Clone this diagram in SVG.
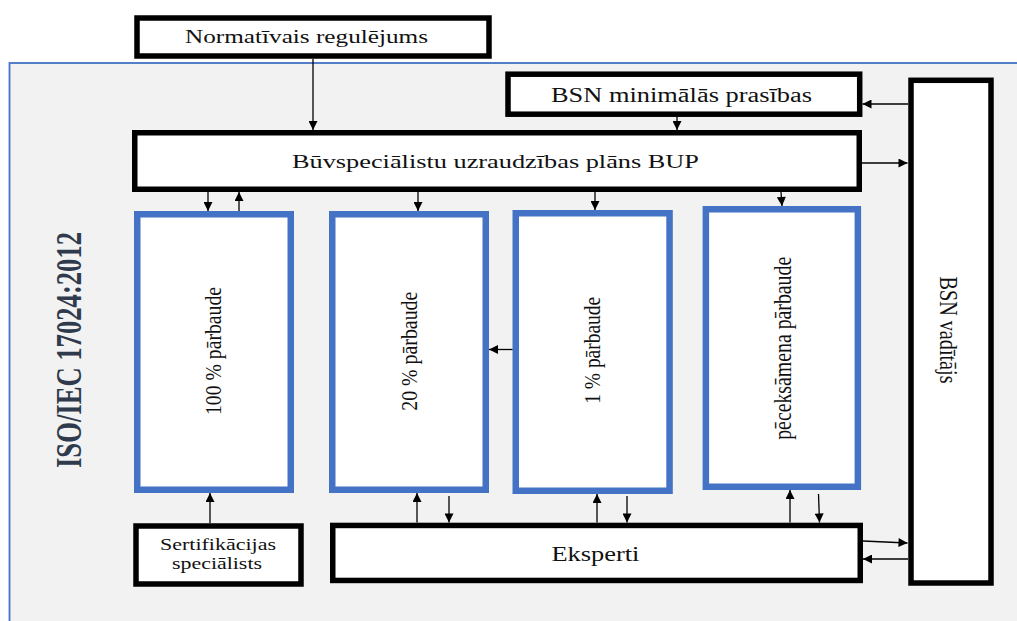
<svg xmlns="http://www.w3.org/2000/svg" width="1017" height="621" viewBox="0 0 1017 621">
<defs>
<marker id="ah" viewBox="0 0 10 10" refX="10" refY="5" markerWidth="10" markerHeight="9" markerUnits="userSpaceOnUse" orient="auto">
<path d="M0,0 L10,5 L0,10 z" fill="#000"/>
</marker>
<style>
.bk{fill:#fff;stroke:#000;stroke-width:5.5}
.bl{fill:#fff;stroke:#4472c4;stroke-width:6.5}
.t{font-family:"Liberation Serif","Times New Roman",serif;fill:#111}
.c line{stroke:#000;stroke-width:1.3;marker-end:url(#ah)}
</style>
</defs>
<rect x="0" y="0" width="1017" height="621" fill="#fff"/>
<rect id="container" x="9.5" y="63" width="1020" height="600" fill="#f2f2f2" stroke="#4472c4" stroke-width="1.8"/>
<g id="iso"><text class="t" font-weight="bold" font-size="26.7" fill="#2f3b4c" text-anchor="middle" textLength="236" lengthAdjust="spacingAndGlyphs" transform="translate(69,350) rotate(-90) scale(1,1.35)" x="0" y="9" style="fill:#2f3b4c">ISO/IEC 17024:2012</text></g>
<g id="normativais"><rect class="bk" x="137" y="18" width="352" height="38" stroke-width="6"/><text class="t" font-size="18" x="185" y="43.3" textLength="243" lengthAdjust="spacingAndGlyphs">Normatīvais regulējums</text></g>
<g id="bsnmin"><rect class="bk" x="508" y="74.2" width="351.7" height="40"/><text class="t" font-size="20" x="551" y="101.7" textLength="261" lengthAdjust="spacingAndGlyphs">BSN minimālās prasības</text></g>
<g id="bup"><rect class="bk" x="134.75" y="132.75" width="724.5" height="56.5"/><text class="t" font-size="19.5" x="292" y="168.3" textLength="407" lengthAdjust="spacingAndGlyphs">Būvspeciālistu uzraudzības plāns BUP</text></g>
<g id="bsnvad"><rect class="bk" x="911" y="80.3" width="80" height="502.7" stroke-width="6"/><text class="t" font-size="20" text-anchor="middle" textLength="107" lengthAdjust="spacingAndGlyphs" transform="translate(946,330) rotate(90) scale(1,1.3)" x="0" y="4.7">BSN vadītājs</text></g>
<g id="p100"><rect class="bl" x="137.25" y="214.25" width="153.5" height="275.5"/><text class="t" font-size="20" text-anchor="middle" textLength="128" lengthAdjust="spacingAndGlyphs" transform="translate(215,351) rotate(-90) scale(1,1.2)" x="0" y="4.7">100 % pārbaude</text></g>
<g id="p20"><rect class="bl" x="332.25" y="214.25" width="153.5" height="275.5"/><text class="t" font-size="20" text-anchor="middle" textLength="119" lengthAdjust="spacingAndGlyphs" transform="translate(411,351.2) rotate(-90) scale(1,1.2)" x="0" y="4.7">20 % pārbaude</text></g>
<g id="p1"><rect class="bl" x="515.75" y="213.25" width="153.8" height="277.5"/><text class="t" font-size="20" text-anchor="middle" textLength="107" lengthAdjust="spacingAndGlyphs" transform="translate(594.7,350.3) rotate(-90) scale(1,1.2)" x="0" y="4.7">1 % pārbaude</text></g>
<g id="pec"><rect class="bl" x="705.85" y="209.25" width="152" height="277.5"/><text class="t" font-size="20" text-anchor="middle" textLength="183" lengthAdjust="spacingAndGlyphs" transform="translate(785,348.3) rotate(-90) scale(1,1.3)" x="0" y="4.7">pēceksāmena pārbaude</text></g>
<g id="sert"><rect class="bk" x="136" y="526" width="165" height="58" stroke-width="6"/><text class="t" font-size="17" x="160" y="550" textLength="116" lengthAdjust="spacingAndGlyphs">Sertifikācijas</text><text class="t" font-size="17" x="172" y="569.3" textLength="90" lengthAdjust="spacingAndGlyphs">speciālists</text></g>
<g id="eksperti"><rect class="bk" x="332.75" y="525.45" width="527.5" height="55"/><text class="t" font-size="20" x="551.4" y="561" textLength="88" lengthAdjust="spacingAndGlyphs">Eksperti</text></g>
<g id="connectors" class="c">
<line x1="313" y1="59" x2="313" y2="130"/>
<line x1="677" y1="117" x2="677" y2="130"/>
<line x1="908" y1="104" x2="862.5" y2="104"/>
<line x1="862" y1="163" x2="907.5" y2="163"/>
<line x1="208" y1="192" x2="208" y2="211"/>
<line x1="239" y1="211" x2="239" y2="192"/>
<line x1="418" y1="192" x2="418" y2="211"/>
<line x1="595" y1="192" x2="595" y2="210"/>
<line x1="781" y1="192" x2="782" y2="206"/>
<line x1="512.5" y1="349.5" x2="489" y2="349.5"/>
<line x1="210" y1="523" x2="210" y2="493"/>
<line x1="417" y1="522.5" x2="417" y2="493"/>
<line x1="449" y1="496" x2="449" y2="522.5"/>
<line x1="597" y1="522.5" x2="597" y2="494"/>
<line x1="627" y1="496" x2="627" y2="522.5"/>
<line x1="790" y1="522.5" x2="790" y2="490"/>
<line x1="818.5" y1="494" x2="819.5" y2="522.5"/>
<line x1="863" y1="541" x2="907.5" y2="543"/>
<line x1="908" y1="559" x2="863" y2="559"/>
</g>
</svg>
